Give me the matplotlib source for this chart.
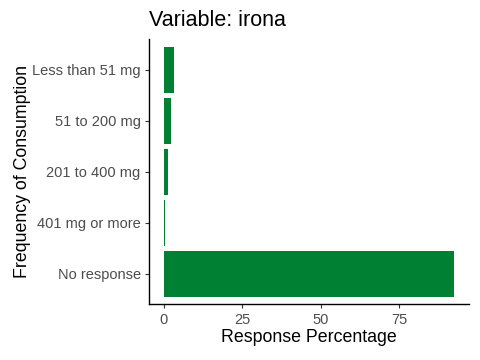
import matplotlib
matplotlib.use('Agg')
from matplotlib import pyplot as plt

# data (top to bottom)
categories = ["Less than 51 mg", "51 to 200 mg", "201 to 400 mg", "401 mg or more", "No response"]
percentages = [3.2, 2.5, 1.3, 0.4, 92.6]
x_ticks = [0, 25, 50, 75]

plt.rcParams['font.family'] = ['Liberation Sans', 'DejaVu Sans']

fig = plt.figure(figsize=(4.8, 3.6), dpi=100)
ax = fig.add_axes([149 / 480, 1 - 304.3 / 360, 320 / 480, (304.3 - 39) / 360])

ypos = list(range(len(categories)))[::-1]
ax.barh(ypos, percentages, height=0.9, color="#008033")

top = max(percentages)
ax.set_xlim(-0.05 * top, top * 1.05)
ax.set_ylim(-0.6, len(categories) - 1 + 0.6)
ax.set_yticks(ypos)
ax.set_yticklabels(categories)
ax.set_xticks(x_ticks)

for side in ['top', 'right']:
    ax.spines[side].set_visible(False)
for side in ['left', 'bottom']:
    ax.spines[side].set_linewidth(1.0)
    ax.spines[side].set_color('black')

ax.tick_params(axis='both', length=3, width=0.8, color='#333333',
               labelcolor='#4D4D4D', labelsize=10.5, pad=3)

ax.set_xlabel("Response Percentage", fontsize=12.8, color='black', labelpad=2)
ax.set_ylabel("Frequency of Consumption", fontsize=12.8, color='black', labelpad=1)
ax.set_title("Variable: irona", loc='left', fontsize=15.5, color='black', pad=9)

fig.savefig("out.png", dpi=100)
